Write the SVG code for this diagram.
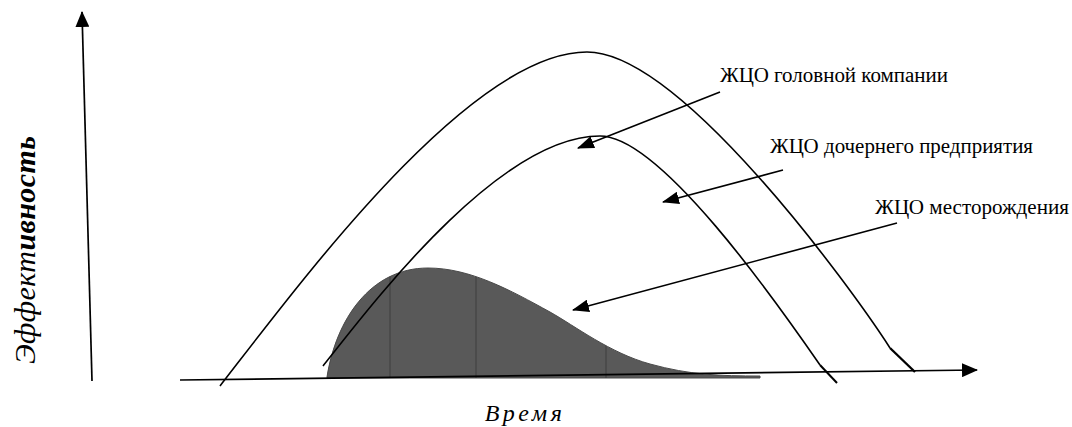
<svg xmlns="http://www.w3.org/2000/svg" width="1072" height="427" viewBox="0 0 1072 427">
<style>
.curve{fill:none;stroke:#000;stroke-width:1.6}
.axis{fill:none;stroke:#000;stroke-width:1.7}
.ptr{fill:none;stroke:#000;stroke-width:1.6}
.lbl{font-family:"Liberation Serif","Times New Roman",serif;font-size:20px;fill:#000}
.ax{font-family:"Liberation Serif","Times New Roman",serif;font-style:italic;fill:#000}
</style>
<defs>
<marker id="ah" viewBox="0 0 16 12" refX="15" refY="6" markerWidth="17" markerHeight="13" markerUnits="userSpaceOnUse" orient="auto">
<path d="M0,0 L16,6 L0,12 Z" fill="#000"/>
</marker>
<marker id="axh" viewBox="0 0 16 14" refX="15" refY="7" markerWidth="16" markerHeight="14" markerUnits="userSpaceOnUse" orient="auto">
<path d="M0,0 L16,7 L0,14 Z" fill="#000"/>
</marker>
<clipPath id="bellclip">
<path d="M327,377 C336,320 370,268 428,268 C470,268 510,290 550,312 C575,326 610,353 650,364 C690,375 720,376 760,376 L760,378 L327,378 Z"/>
</clipPath>
</defs>
<g id="field-lifecycle">
<path d="M327,377 C336,320 370,268 428,268 C470,268 510,290 550,312 C575,326 610,353 650,364 C690,375 720,376 760,376 L760,378 L327,378 Z" fill="#595959" stroke="#4a4a4a" stroke-width="1"/>
<g clip-path="url(#bellclip)" stroke="#3f3f3f" stroke-width="1">
<line x1="390" y1="260" x2="390" y2="380"/>
<line x1="476" y1="260" x2="476" y2="380"/>
<line x1="606" y1="260" x2="606" y2="380"/>
</g>
</g>
<g id="parent-lifecycle">
<path class="curve" d="M220,386 C300,283 470,52 587,52 C680,52 850,286 890,348"/>
<line x1="890" y1="348" x2="915" y2="372" stroke="#000" stroke-width="2.4"/>
</g>
<g id="subsidiary-lifecycle">
<path class="curve" d="M323,366 C375,300 500,136 600,136 C660,136 775,300 820,365"/>
<line x1="820" y1="365" x2="837" y2="383" stroke="#000" stroke-width="2"/>
</g>
<g id="axes">
<line class="axis" x1="92" y1="381" x2="82" y2="12" marker-end="url(#axh)"/>
<line class="axis" x1="180" y1="380" x2="977" y2="370" marker-end="url(#axh)"/>
<text class="ax" x="0" y="0" font-size="30" transform="translate(35,364) rotate(-90)" textLength="228" lengthAdjust="spacing">Эффект<tspan font-weight="bold">ивность</tspan></text>
<text class="ax" x="525" y="421" font-size="24" text-anchor="middle" letter-spacing="3.5">Время</text>
</g>
<g id="connectors">
<line class="ptr" x1="720" y1="92" x2="578" y2="148" marker-end="url(#ah)"/>
<line class="ptr" x1="783" y1="170" x2="663" y2="202" marker-end="url(#ah)"/>
<line class="ptr" x1="897" y1="223" x2="573" y2="310" marker-end="url(#ah)"/>
</g>
<g id="labels">
<text class="lbl" x="720" y="82" textLength="228" lengthAdjust="spacingAndGlyphs">ЖЦО головной компании</text>
<text class="lbl" x="770" y="153" textLength="263" lengthAdjust="spacingAndGlyphs">ЖЦО дочернего предприятия</text>
<text class="lbl" x="875" y="214" textLength="194" lengthAdjust="spacingAndGlyphs">ЖЦО месторождения</text>
</g>
</svg>
